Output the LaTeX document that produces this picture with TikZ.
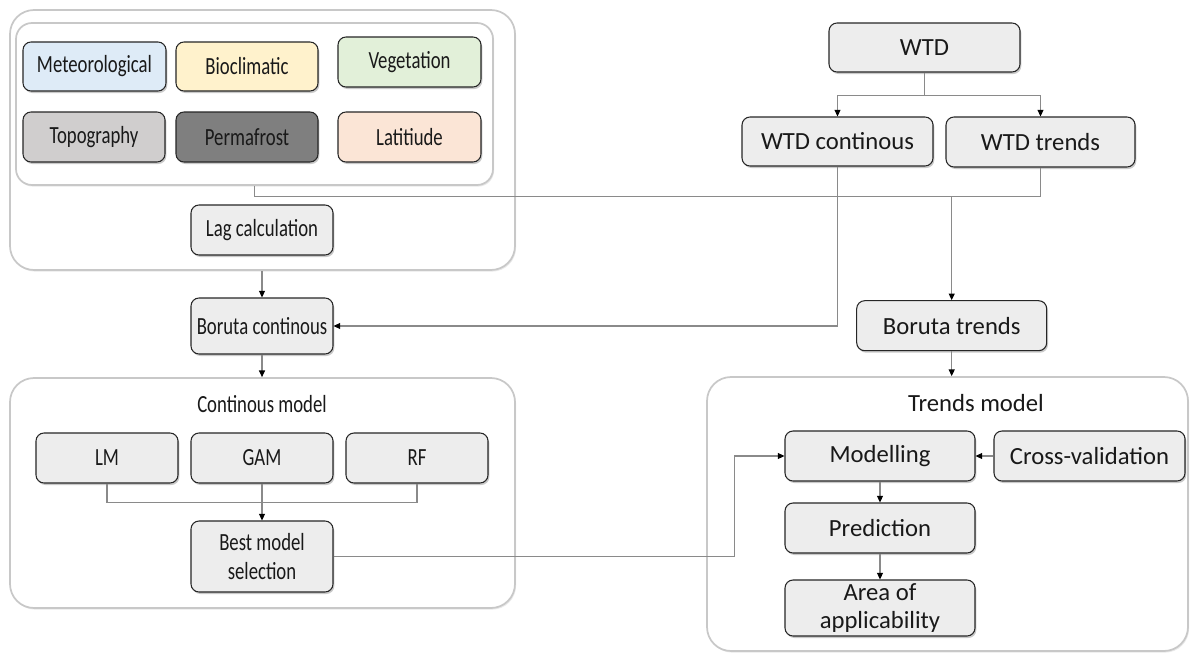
\documentclass[tikz,border=0pt]{standalone}
\usepackage{fontspec}
\setmainfont{Carlito}
\newfontfamily\condfont[FakeStretch=0.76]{Carlito}
\usetikzlibrary{arrows.meta,shadows,positioning}
\definecolor{cmet}{HTML}{DEEBF7}
\definecolor{cbio}{HTML}{FFF2CC}
\definecolor{cveg}{HTML}{E2F0D9}
\definecolor{ctopo}{HTML}{D0CECE}
\definecolor{cperm}{HTML}{7F7F7F}
\definecolor{clat}{HTML}{FBE5D6}
\definecolor{cbox}{HTML}{EDEDED}
\definecolor{cline}{HTML}{8A8A8A}
\definecolor{cgroup}{HTML}{C8C8C8}
\tikzset{
  x=0.75pt, y=-0.75pt,
  every node/.style={text=black!90},
  lefttext/.style={font=\condfont\fontsize{18.5}{22}\selectfont},
  righttext/.style={font=\fontsize{18.5}{21}\selectfont},
  boxnode/.style={draw=black!85, line width=0.8pt, rounded corners=6pt, fill=cbox,
    inner sep=1pt, align=center,
    drop shadow={shadow xshift=1pt, shadow yshift=-1.5pt, opacity=0.35, fill=black!60}},
  lbox/.style={boxnode, lefttext},
  rbox/.style={boxnode, righttext},
  groupbox/.style={draw=cgroup, line width=1.3pt, fill=white,
    drop shadow={shadow xshift=0.8pt, shadow yshift=-1.2pt, opacity=0.15, fill=black!60}},
  conn/.style={draw=cline, line width=0.8pt},
  arr/.style={conn, -{Triangle[length=5pt,width=4.5pt,color=black]}},
}
\begin{document}
\begin{tikzpicture}
\useasboundingbox (0,0) rectangle (1190,653);
% group boxes
\node[groupbox, rounded corners=18pt, minimum width=505*0.75pt, minimum height=260*0.75pt] (outer) at (262.5,140) {};
\node[groupbox, rounded corners=12pt, minimum width=477*0.75pt, minimum height=162*0.75pt] (inner) at (254.5,104) {};
\node[groupbox, rounded corners=18pt, minimum width=505*0.75pt, minimum height=230*0.75pt] (cm) at (262.5,493) {};
\node[groupbox, rounded corners=18pt, minimum width=481*0.75pt, minimum height=274*0.75pt] (tm) at (947.5,514) {};
\node[lefttext] (cmt) at (262,404) {Continous model};
\node[righttext] (tmt) at (976,403) {Trends model};
% variable boxes
\node[lbox, fill=cmet, minimum width=143*0.75pt, minimum height=49*0.75pt] (met) at (94.5,66.5) {Meteorological};
\node[lbox, fill=cbio, minimum width=142*0.75pt, minimum height=49*0.75pt] (bio) at (247,66.5) {Bioclimatic};
\node[lbox, fill=cveg, minimum width=143*0.75pt, minimum height=50*0.75pt] (veg) at (409.5,62) {Vegetation};
\node[lbox, fill=ctopo, minimum width=142*0.75pt, minimum height=50*0.75pt] (topo) at (94,137) {Topography};
\node[lbox, fill=cperm, minimum width=142*0.75pt, minimum height=50*0.75pt] (perm) at (247,137) {Permafrost};
\node[lbox, fill=clat, minimum width=143*0.75pt, minimum height=50*0.75pt] (lat) at (409.5,137) {Latitiude};
\node[lbox, minimum width=142*0.75pt, minimum height=50*0.75pt] (lag) at (262,230) {Lag calculation};
% WTD
\node[rbox, minimum width=191*0.75pt, minimum height=49*0.75pt] (wtd) at (924.5,47.5) {WTD};
\node[rbox, minimum width=191*0.75pt, minimum height=49*0.75pt] (wtdc) at (837.5,141.5) {WTD continous};
\node[rbox, minimum width=189*0.75pt, minimum height=50*0.75pt] (wtdt) at (1040.5,142) {WTD trends};
% Boruta
\node[lbox, minimum width=142*0.75pt, minimum height=56*0.75pt] (bc) at (262,326) {Boruta continous};
\node[rbox, minimum width=190*0.75pt, minimum height=50*0.75pt] (bt) at (951.7,325.7) {Boruta trends};
% continuous model
\node[lbox, minimum width=142*0.75pt, minimum height=50*0.75pt] (lm) at (107,458) {LM};
\node[lbox, minimum width=142*0.75pt, minimum height=50*0.75pt] (gam) at (262,458) {GAM};
\node[lbox, minimum width=142*0.75pt, minimum height=50*0.75pt] (rf) at (417,458) {RF};
\node[lbox, minimum width=142*0.75pt, minimum height=71*0.75pt] (best) at (262,556.5) {Best model\\selection};
% trends model
\node[rbox, minimum width=190*0.75pt, minimum height=50*0.75pt] (mod) at (880,456) {Modelling};
\node[rbox, minimum width=191*0.75pt, minimum height=50*0.75pt] (cv) at (1089.5,456) {Cross-validation};
\node[rbox, minimum width=190*0.75pt, minimum height=50*0.75pt] (pred) at (880,528) {Prediction};
\node[rbox, minimum width=190*0.75pt, minimum height=56*0.75pt, inner sep=0pt] (area) at (880,608) {Area of\\applicability};
% connectors
\draw[conn] (wtd.south) -- ++(0,23) coordinate (w1);
\draw[arr] (w1) -| (wtdc.north);
\draw[arr] (w1) -| (wtdt.north);
\draw[conn] (inner.south) -- ++(0,11) coordinate (j0) -| (wtdt.south);
\coordinate (j1) at (j0 -| bt.north);
\draw[arr] (j1) -- (bt.north);
\draw[arr] (wtdc.south) |- (bc.east);
\draw[arr] (outer.south -| bc.north) -- (bc.north);
\draw[arr] (bc.south) -- (bc.south |- cm.north);
\draw[arr] (bt.south) -- (bt.south |- tm.north);
\draw[conn] (lm.south) -- ++(0,19) -| (rf.south);
\draw[arr] (gam.south) -- (best.north);
\coordinate (b1) at ([xshift=28*0.75pt]tm.west |- best.east);
\draw[arr] (best.east) -- (b1) |- (mod.west);
\draw[arr] (cv.west) -- (mod.east);
\draw[arr] (mod.south) -- (pred.north);
\draw[arr] (pred.south) -- (area.north);
\end{tikzpicture}
\end{document}
